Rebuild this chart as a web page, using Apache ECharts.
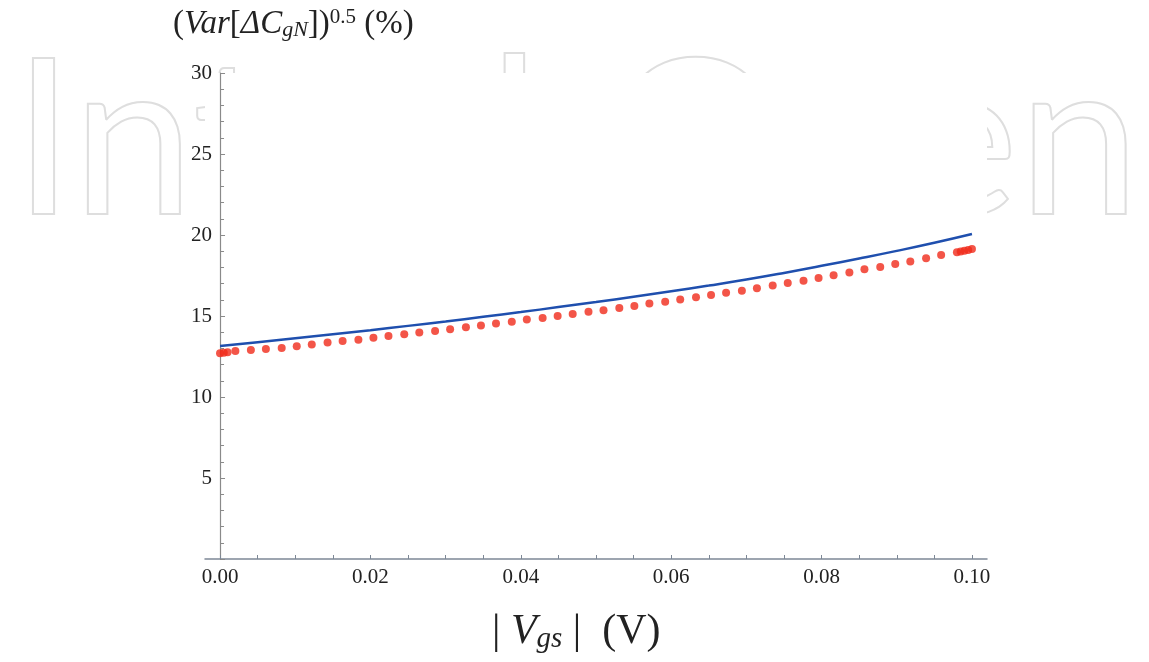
<!DOCTYPE html>
<html>
<head>
<meta charset="utf-8">
<title>Var dCgN</title>
<script src="https://cdn.jsdelivr.net/npm/echarts@6/dist/echarts.min.js"></script>
<style>
  html, body { margin: 0; padding: 0; background: #fff; }
  #chart { width: 1149px; height: 662px; }
</style>
</head>
<body>
<div id="chart"></div>
<script>
// model curve (blue line)
var modelVgs = [0, 0.005, 0.01, 0.015, 0.02, 0.025, 0.03, 0.035, 0.04, 0.045, 0.05,
  0.055, 0.06, 0.065, 0.07, 0.075, 0.08, 0.085, 0.09, 0.095, 0.1];
var modelVals = [13.15, 13.38, 13.62, 13.87, 14.12, 14.39, 14.66, 14.95, 15.24, 15.55, 15.86,
  16.19, 16.53, 16.88, 17.25, 17.66, 18.10, 18.55, 19.02, 19.52, 20.06];

// simulated points (red dots)
var simVgs = [0, 0.0005, 0.001, 0.00204, 0.0041, 0.0061, 0.0082, 0.0102, 0.0122, 0.0143,
  0.0163, 0.0184, 0.0204, 0.0224, 0.0245, 0.0265, 0.0286, 0.0306, 0.0327, 0.0347,
  0.0367, 0.0388, 0.0408, 0.0429, 0.0449, 0.0469, 0.049, 0.051, 0.0531, 0.0551,
  0.0571, 0.0592, 0.0612, 0.0633, 0.0653, 0.0673, 0.0694, 0.0714, 0.0735, 0.0755,
  0.0776, 0.0796, 0.0816, 0.0837, 0.0857, 0.0878, 0.0898, 0.0918, 0.0939, 0.0959,
  0.098, 0.0985, 0.099, 0.0995, 0.1];
var simVals = [12.70, 12.73, 12.76, 12.84, 12.90, 12.96, 13.03, 13.14, 13.24, 13.36,
  13.45, 13.54, 13.66, 13.76, 13.87, 13.98, 14.08, 14.18, 14.30, 14.42,
  14.53, 14.65, 14.78, 14.87, 15.00, 15.12, 15.26, 15.36, 15.50, 15.62,
  15.77, 15.88, 16.02, 16.15, 16.29, 16.43, 16.56, 16.71, 16.89, 17.04,
  17.18, 17.34, 17.52, 17.69, 17.88, 18.03, 18.21, 18.37, 18.56, 18.76,
  18.93, 18.98, 19.03, 19.08, 19.14];

var xTickValues = [0, 0.005, 0.01, 0.015, 0.02, 0.025, 0.03, 0.035, 0.04, 0.045, 0.05,
  0.055, 0.06, 0.065, 0.07, 0.075, 0.08, 0.085, 0.09, 0.095, 0.1];
var xLabelValues = [0, 0.02, 0.04, 0.06, 0.08, 0.1];

function zip(xs, ys) {
  return xs.map(function (x, i) { return [x, ys[i]]; });
}

var serif = '"Liberation Serif", "DejaVu Serif", serif';
var axisColor = '#7d8896';

var chart = echarts.init(document.getElementById('chart'));
var options = {
  animation: false,
  backgroundColor: '#fff',
  title: [
    {
      text: '({i|Var}[{i|ΔC}{sub|gN}]){sup|0.5} (%)',
      left: 168,
      top: 2,
      textStyle: {
        fontFamily: serif,
        fontSize: 33,
        fontWeight: 'normal',
        color: '#222',
        rich: {
          i: { fontFamily: serif, fontSize: 33, fontStyle: 'italic', color: '#222' },
          sub: { fontFamily: serif, fontSize: 22, fontStyle: 'italic', color: '#222', padding: [12, 0, 0, 0] },
          sup: { fontFamily: serif, fontSize: 21, color: '#222', padding: [0, 0, 14, 0] }
        }
      }
    },
    {
      text: '| {i|V}{sub|gs} |  (V)',
      left: 487,
      top: 605,
      textStyle: {
        fontFamily: serif,
        fontSize: 42,
        fontWeight: 'normal',
        color: '#222',
        rich: {
          i: { fontFamily: serif, fontSize: 42, fontStyle: 'italic', color: '#222' },
          sub: { fontFamily: serif, fontSize: 29, fontStyle: 'italic', color: '#222', padding: [15, 0, 0, 0] }
        }
      }
    }
  ],
  graphic: [
    {
      // faint publisher watermark behind the chart
      type: 'text',
      z: -20,
      silent: true,
      left: 12,
      top: 34,
      style: {
        text: 'IntechOpen',
        font: '400 218px Lato, "Open Sans", sans-serif',
        fill: 'rgba(0,0,0,0)',
        stroke: '#dedede',
        lineWidth: 2
      }
    },
    {
      type: 'rect',
      z: -10,
      silent: true,
      shape: { x: 205, y: 73, width: 782, height: 486 },
      style: { fill: '#fff' }
    }
  ],
  grid: {
    left: 205,
    right: 162,
    top: 73,
    bottom: 103,
    containLabel: false
  },
  xAxis: {
    type: 'value',
    min: -0.002,
    max: 0.102,
    axisLine: { onZero: true, lineStyle: { color: axisColor, width: 1.5 } },
    axisTick: {
      inside: true,
      length: 4,
      customValues: xTickValues,
      lineStyle: { color: axisColor }
    },
    axisLabel: {
      customValues: xLabelValues,
      margin: 8,
      fontFamily: serif,
      fontSize: 21,
      color: '#222',
      formatter: function (v) { return v.toFixed(2); }
    },
    splitLine: { show: false }
  },
  yAxis: {
    type: 'value',
    min: 0,
    max: 30,
    interval: 5,
    axisLine: { show: true, onZero: true, lineStyle: { color: '#8a8a8a', width: 1.2 } },
    axisTick: { show: true, inside: true, length: 5, lineStyle: { color: '#8a8a8a' } },
    minorTick: { show: true, splitNumber: 5, length: 4, lineStyle: { color: '#8a8a8a' } },
    axisLabel: {
      margin: -7,
      fontFamily: serif,
      fontSize: 21,
      color: '#222',
      formatter: function (v) { return v === 0 ? '' : String(v); }
    },
    splitLine: { show: false }
  },
  series: [
    {
      name: 'model',
      type: 'line',
      data: zip(modelVgs, modelVals),
      smooth: true,
      showSymbol: false,
      lineStyle: { color: '#1f4fae', width: 2.5 },
      z: 3
    },
    {
      name: 'simulation',
      type: 'scatter',
      data: zip(simVgs, simVals),
      symbolSize: 8,
      itemStyle: { color: '#f02a1a' },
      z: 2
    }
  ]
};
chart.setOption(options);
</script>
</body>
</html>
